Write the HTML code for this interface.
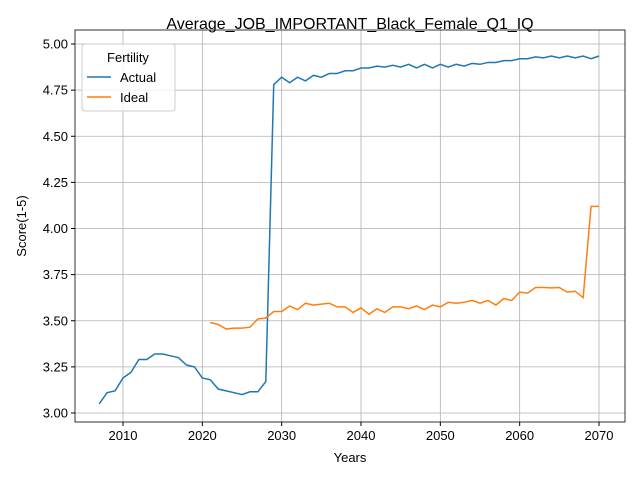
<!DOCTYPE html>
<html><head><meta charset="utf-8"><style>body{margin:0;background:#fff}svg{display:block;font-family:"Liberation Sans","DejaVu Sans",sans-serif}</style></head>
<body>
<svg id="c" width="640" height="480"></svg>
<script>
const actualYears=[];for(let y=2007;y<=2070;y++)actualYears.push(y);
const actualValues=[3.05,3.11,3.12,3.19,3.22,3.29,3.29,3.32,3.32,3.31,3.30,3.26,3.25,3.19,3.18,3.13,3.12,3.11,3.10,3.115,3.115,3.17,4.78,4.82,4.79,4.82,4.80,4.83,4.82,4.84,4.84,4.855,4.855,4.87,4.87,4.88,4.875,4.885,4.875,4.89,4.87,4.89,4.87,4.89,4.875,4.89,4.88,4.895,4.89,4.9,4.9,4.91,4.91,4.92,4.92,4.93,4.925,4.935,4.925,4.935,4.925,4.935,4.92,4.935];
const idealYears=[];for(let y=2021;y<=2070;y++)idealYears.push(y);
const idealValues=[3.49,3.48,3.455,3.46,3.46,3.465,3.51,3.515,3.55,3.55,3.58,3.56,3.595,3.585,3.59,3.595,3.575,3.575,3.545,3.57,3.535,3.565,3.545,3.575,3.575,3.565,3.58,3.56,3.585,3.575,3.60,3.595,3.60,3.61,3.595,3.61,3.585,3.62,3.61,3.655,3.65,3.68,3.68,3.678,3.68,3.655,3.66,3.625,4.12,4.12];
const xTicks=[2010,2020,2030,2040,2050,2060,2070];
const yTicks=[3.00,3.25,3.50,3.75,4.00,4.25,4.50,4.75,5.00];
const L=75,R=625,T=30,B=422;
const X=v=>123+(v-2010)*(476/60);
const Y=v=>413-(v-3)*(369/2);
const svg=document.getElementById('c');const NS='http://www.w3.org/2000/svg';
function mk(t,a,p){const e=document.createElementNS(NS,t);for(const k in a)e.setAttribute(k,a[k]);(p||svg).appendChild(e);return e;}
xTicks.forEach(t=>{const g=mk('line',{x1:X(t),x2:X(t),y1:T,y2:B,stroke:'#b0b0b0','stroke-width':0.8});

mk('line',{x1:X(t),x2:X(t),y1:B,y2:B+4,stroke:'#000'});
const tx=mk('text',{x:X(t),y:B+18,'text-anchor':'middle','font-size':13});tx.textContent=t;
});
yTicks.forEach(t=>{const g=mk('line',{x1:L,x2:R,y1:Y(t),y2:Y(t),stroke:'#b0b0b0','stroke-width':0.8});

mk('line',{x1:L-4,x2:L,y1:Y(t),y2:Y(t),stroke:'#000'});
const tx=mk('text',{x:L-7,y:Y(t)+4.5,'text-anchor':'end','font-size':13});tx.textContent=t.toFixed(2);
});
function line(xs,vs,c,n){const p=mk('polyline',{points:xs.map((x,i)=>X(x)+','+Y(vs[i])).join(' '),fill:'none',stroke:c,'stroke-width':1.5});
}
line(actualYears,actualValues,'#1f77b4','actual-line');
line(idealYears,idealValues,'#ff7f0e','ideal-line');
const fr=mk('rect',{x:L,y:T,width:R-L,height:B-T,fill:'none',stroke:'#000','stroke-width':0.8});

</script>
<svg width="640" height="480" style="position:absolute;left:0;top:0">
<text x="350" y="29" text-anchor="middle" font-size="16">Average_JOB_IMPORTANT_Black_Female_Q1_IQ</text>
<text x="350" y="462" text-anchor="middle" font-size="13">Years</text>
<text x="0" y="0" transform="translate(26,226) rotate(-90)" text-anchor="middle" font-size="13">Score(1-5)</text>
<g>
<rect x="82" y="44" width="93" height="67" rx="3" fill="#fff" fill-opacity="0.8" stroke="#ccc"/>
<text x="128" y="62" text-anchor="middle" font-size="13">Fertility</text>
<line x1="87" x2="111" y1="77" y2="77" stroke="#1f77b4" stroke-width="1.5"/>
<text x="120" y="82" font-size="13">Actual</text>
<line x1="87" x2="111" y1="97" y2="97" stroke="#ff7f0e" stroke-width="1.5"/>
<text x="120" y="102" font-size="13">Ideal</text>
</g>
</svg>
</body></html>
